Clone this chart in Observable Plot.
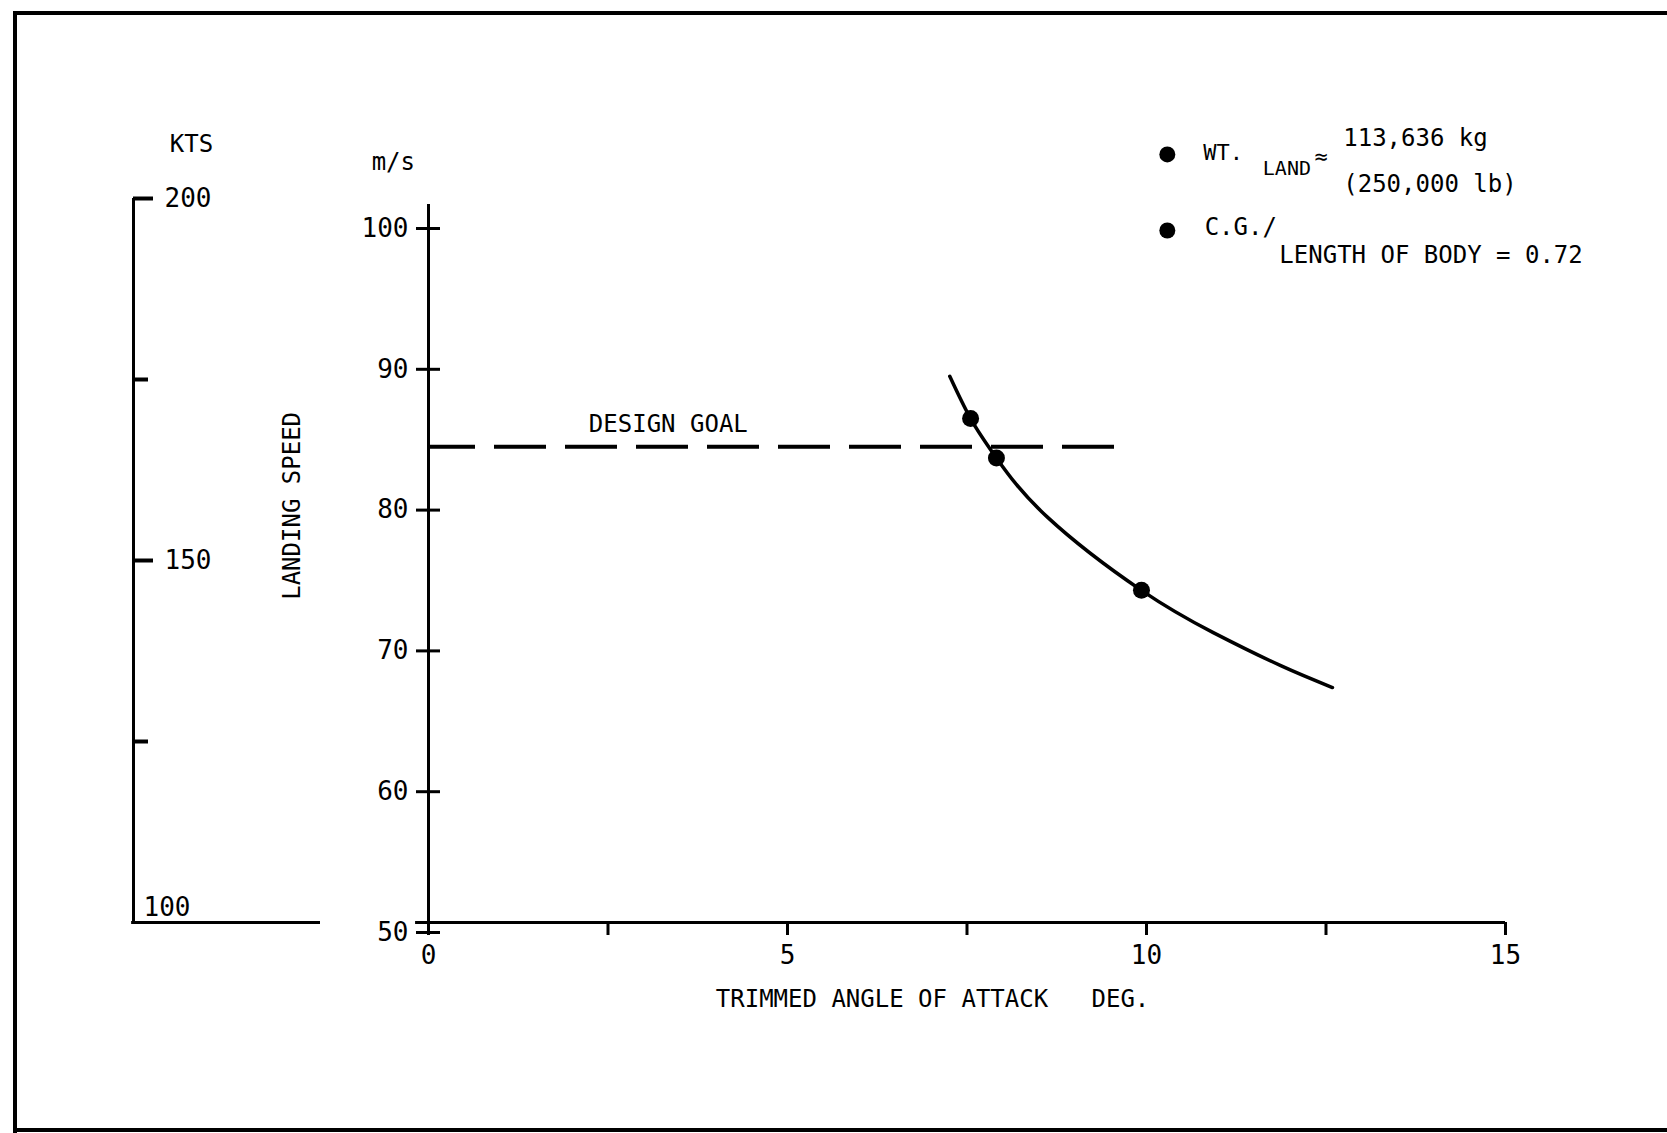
<!DOCTYPE html>
<html><head><meta charset="utf-8">
<script src="https://cdn.jsdelivr.net/npm/d3@7"></script>
<script src="https://cdn.jsdelivr.net/npm/@observablehq/plot@0.6"></script>
<style>
html,body{margin:0;padding:0;background:#fff;}
#wrap{position:relative;width:1667px;height:1133px;overflow:hidden;background:#fff;}
#wrap svg{position:absolute;left:0;top:0;}
svg text{white-space:pre;}
.border{position:absolute;background:#000;}
</style></head><body>
<div id="wrap"></div>
<script>
// ---- data ----
const angleDeg = [7.26, 7.55, 7.91, 8.62, 9.93, 10.93, 11.87, 12.59];
const speedMs  = [89.5, 86.5, 83.7, 79.5, 74.3, 71.3, 68.95, 67.4];
const pointAngle = [7.55, 7.91, 9.93];
const pointSpeed = [86.5, 83.7, 74.3];
const designGoalMs = 84.5;
const designGoalEnd = 9.66;
const xTicks = [0, 5, 10, 15];
const xMinorTicks = [2.5, 7.5, 12.5];
const yTicks = [50, 60, 70, 80, 90, 100];
const ktsMajor = [200, 150];
const ktsMinor = [175, 125];
const ktsLabelTicks = [200, 150];
const ktsBase = 100;
const xLabel = "TRIMMED ANGLE OF ATTACK   DEG.";
const yLabel = "LANDING SPEED";
const unitMs = "m/s";
const unitKts = "KTS";
const designLabel = "DESIGN GOAL";
const legendWt = ["WT.", "LAND", "≈", "113,636 kg", "(250,000 lb)"];
const legendCg = ["C.G./", "LENGTH OF BODY = 0.72"];

const W = 1667, H = 1133;
const FONT = "'DejaVu Sans Mono', 'Liberation Mono', monospace";
const curve = angleDeg.map((a, i) => ({a, v: speedMs[i]}));
const pts = pointAngle.map((a, i) => ({a, v: pointSpeed[i]}));
const baseStyle = {fontFamily: FONT, fontSize: "24px", color: "#000", background: "transparent", overflow: "visible"};

const main = Plot.plot({
  width: W, height: H,
  marginLeft: 428, marginRight: 162, marginTop: 228, marginBottom: 201,
  x: {domain: [0, 15]},
  y: {domain: [50, 100]},
  style: baseStyle,
  marks: [
    Plot.ruleX([0], {y1: 50, y2: 101.7, strokeWidth: 3}),
    Plot.ruleY([50], {x1: -0.18, x2: 15, dy: -10, strokeWidth: 3}),
    Plot.axisY({ticks: yTicks, tickSize: 24, dx: 12, fill: "none", strokeWidth: 3, label: null}),
    Plot.axisY({ticks: yTicks, tickSize: 0, tickPadding: 20, stroke: "none", fontSize: 26, label: null}),
    Plot.axisX({ticks: xTicks.concat(xMinorTicks), tickSize: 13, dy: -10, fill: "none", strokeWidth: 3, label: null}),
    Plot.axisX({ticks: xTicks, tickSize: 0, tickPadding: 13, stroke: "none", fontSize: 26, label: null}),
    Plot.ruleY([designGoalMs], {x1: 0, x2: designGoalEnd, strokeWidth: 4, strokeDasharray: "52,19", strokeDashoffset: 5}),
    Plot.text([designLabel], {x: 3.34, y: designGoalMs, dy: -22, fontSize: 24}),
    Plot.line(curve, {x: "a", y: "v", curve: "natural", strokeWidth: 3.5}),
    Plot.dot(pts, {x: "a", y: "v", r: 8.5, fill: "#000", stroke: "none"}),
    Plot.text([yLabel], {x: -1.894, y: 80.3, rotate: -90, fontSize: 24}),
    Plot.text([unitMs], {x: -0.49, y: 104.7, fontSize: 24}),
    Plot.text([xLabel], {x: 7.02, y: 50, dy: 67, fontSize: 24}),
    // legend
    Plot.dot([0, 1], {x: 10.29, y: i => i === 0 ? 105.26 : 99.86, r: 8, fill: "#000", stroke: "none"}),
    Plot.text([legendWt[0]], {x: 10.79, y: 105.4, textAnchor: "start", fontSize: 22}),
    Plot.text([legendWt[1]], {x: 11.62, y: 104.27, textAnchor: "start", fontSize: 20}),
    Plot.text([legendWt[2]], {x: 12.34, y: 105.05, textAnchor: "start", fontSize: 22}),
    Plot.text([legendWt[3]], {x: 12.74, y: 106.43, textAnchor: "start", fontSize: 24}),
    Plot.text([legendWt[4]], {x: 12.74, y: 103.15, textAnchor: "start", fontSize: 24}),
    Plot.text([legendCg[0]], {x: 10.81, y: 100.1, textAnchor: "start", fontSize: 24}),
    Plot.text([legendCg[1]], {x: 11.85, y: 98.1, textAnchor: "start", fontSize: 24})
  ]
});

const kts = Plot.plot({
  width: W, height: H,
  marginLeft: 133, marginRight: W - 320, marginTop: 198, marginBottom: H - 922,
  x: {domain: [0, 1], axis: null},
  y: {domain: [100, 200], axis: null},
  style: baseStyle,
  marks: [
    Plot.ruleX([0], {y1: ktsBase, y2: 200, strokeWidth: 3}),
    Plot.ruleY([ktsBase], {x1: -0.01, x2: 1, strokeWidth: 3}),
    Plot.axisY({ticks: ktsMajor, tickSize: 20, dx: 20, fill: "none", strokeWidth: 4, label: null}),
    Plot.axisY({ticks: ktsMinor, tickSize: 15, dx: 15, fill: "none", strokeWidth: 4, label: null}),
    Plot.text(ktsLabelTicks, {x: 0, y: d => d, dx: 31, textAnchor: "start", fontSize: 26}),
    Plot.text([ktsBase], {x: 0, y: ktsBase, dx: 10, dy: -15, textAnchor: "start", fontSize: 26}),
    Plot.text([unitKts], {x: 0, y: 200, dx: 58, dy: -54, fontSize: 24})
  ]
});

const wrap = document.getElementById("wrap");
wrap.appendChild(main);
wrap.appendChild(kts);
[[13, 11, 1654, 4], [13, 11, 4, 1122], [13, 1128, 1654, 4]].forEach(([l, t, w, h]) => {
  const d = document.createElement("div");
  d.className = "border";
  Object.assign(d.style, {left: l + "px", top: t + "px", width: w + "px", height: h + "px"});
  wrap.appendChild(d);
});
</script>
</body></html>
